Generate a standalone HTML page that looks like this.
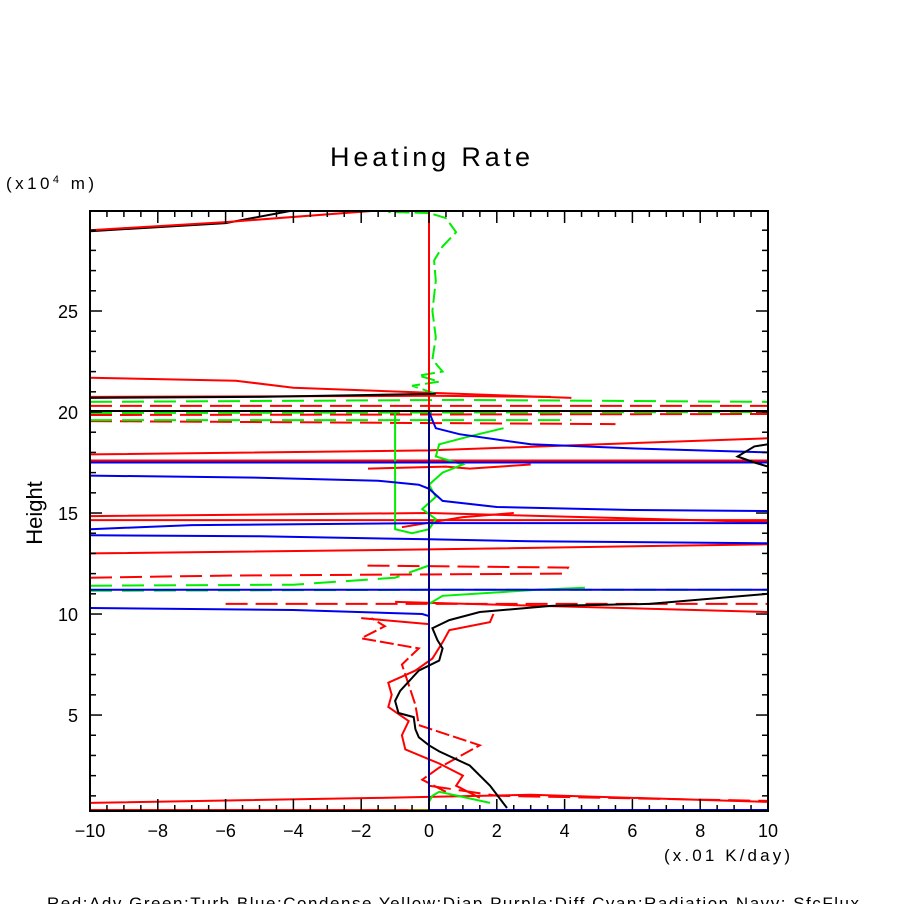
<!DOCTYPE html>
<html><head><meta charset="utf-8"><style>
html,body{margin:0;padding:0;background:#fff;}
svg{display:block;font-family:"Liberation Sans",sans-serif;}
</style></head><body>
<svg id="chart" width="904" height="904" viewBox="0 0 904 904" xmlns="http://www.w3.org/2000/svg">
<rect width="904" height="904" fill="#fff"/>
<text x="330" y="166" font-size="27" textLength="200" lengthAdjust="spacing" fill="#000">Heating Rate</text>
<text x="6" y="189" font-size="17" textLength="88" lengthAdjust="spacing" fill="#000">(x10<tspan font-size="11" dy="-6">4</tspan><tspan dy="6"> m)</tspan></text>
<text x="42" y="513" font-size="22" text-anchor="middle" fill="#000" transform="rotate(-90 42 513)">Height</text>
<text x="664" y="861" font-size="17" textLength="126" lengthAdjust="spacing" fill="#000">(x.01 K/day)</text>
<text x="47" y="909" font-size="17" textLength="812" lengthAdjust="spacing" fill="#000">Red:Adv  Green:Turb  Blue:Condense  Yellow:Diap  Purple:Diff  Cyan:Radiation  Navy: SfcFlux</text>
<g id="marks"></g>
<g id="axes"></g>
</svg>
<script>
const xTicks=[-10,-8,-6,-4,-2,0,2,4,6,8,10];
const yTicks=[5,10,15,20,25];
const X0=-10,X1=10,Y0=0.25,Y1=29.95;
const PL=90,PR=768,PT=211,PB=811;
function sx(v){return PL+(v-X0)/(X1-X0)*(PR-PL);}
function sy(v){return PB-(v-Y0)/(Y1-Y0)*(PB-PT);}
const NS="http://www.w3.org/2000/svg";
const marks=document.getElementById('marks');
const axes=document.getElementById('axes');

const blackTotal=[[2.3,0.4],[1.8,1.5],[1.2,2.5],[0.3,3.2],[0,3.5],[-0.3,3.9],[-0.4,4.3],[-0.45,4.9],[-0.9,5.1],[-1,5.7],[-0.85,6.2],[-0.3,7.2],[0.3,7.7],[0.4,8.3],[0.25,8.7],[0.1,9.3],[0.6,9.7],[1.5,10.1],[3.6,10.4],[6.5,10.5],[10,11.0]];
const blackTop=[[-10,28.95],[-6,29.35],[-4.1,29.95]];
const blackMid=[[-10,20.7],[-5,20.75],[0.2,20.9]];
const blackMid2=[[-10,20.05],[10,20.05]];
const blackRight=[[10,17.3],[9.6,17.5],[9.1,17.8],[9.6,18.3],[10,18.4]];
const redSolid=[
 [[-10,21.7],[-5.7,21.55],[-4,21.2],[4.2,20.7]],
 [[-10,20.75],[0,20.8],[3.6,20.75]],
 [[-10,17.9],[0,18.1],[10,18.7]],
 [[-10,17.6],[10,17.6]],
 [[-10,14.85],[0,15.0],[10,14.55]],
 [[-10,14.65],[10,14.65]],
 [[-10,13.0],[0,13.2],[10,13.45]],
 [[-10,0.65],[-1.5,0.9],[0,0.95],[3,1.05],[10,0.7]],
 [[-10,0.3],[10,0.3]],
 [[-1.0,10.6],[10,10.1]],
 [[-2,9.8],[0,9.5]]
];
const redDashed=[
 [[-10,20.3],[10,20.3]],
 [[-10,19.85],[10,19.9]],
 [[-10,19.55],[5.5,19.4]],
 [[-10,11.8],[-6,11.9],[4,12.0],[4.1,12.3],[-2,12.4]],
 [[-6,10.5],[10,10.5]],
 [[0,1.5],[2,1.0],[10,0.75]]
];
const redWiggle1=[[1.5,0.9],[0.8,1.5],[1.0,2.0],[0.3,2.6],[-0.7,3.3],[-0.8,4.0],[-0.6,4.7],[-1.2,5.4],[-1.1,6.0],[-1.2,6.6],[-0.4,7.2],[0.1,7.8],[0.4,8.6],[0.6,9.2],[1.8,9.6],[1.9,10.0]];
const redWiggle2=[[0.5,1.2],[-0.2,1.8],[0.3,2.4],[1.5,3.5],[-0.3,4.5],[-0.4,5.5],[-0.6,6.5],[-0.8,7.5],[-0.3,8.3],[-2.0,8.8],[-1.3,9.4],[-1.7,9.8]];
const redFrag1=[[-1.8,17.2],[0.5,17.3],[1.2,17.2],[3,17.4]];
const redFrag2=[[-0.8,14.3],[1,14.8],[2.5,15.0]];
const redZero=[[0,20.0],[0,29.9]];
const blueSolid=[
 [[-10,17.5],[10,17.5]],
 [[-10,16.85],[-5,16.75],[-1.5,16.6],[-0.3,16.4],[0,16.2],[0.4,15.6],[2,15.3],[6,15.15],[10,15.1]],
 [[0,20.0],[0.2,19.2],[0.9,18.9],[3,18.4],[6,18.2],[10,18.0]],
 [[-10,14.2],[-7,14.4],[0,14.5],[10,14.5]],
 [[-10,13.9],[-5,13.85],[0,13.7],[3,13.6],[10,13.5]],
 [[-10,11.2],[10,11.2]],
 [[-10,10.3],[-4,10.2],[-0.2,10.0],[0,9.9]],
 [[0,0.3],[10,0.3]]
];
const navyZero=[[0,0.3],[0,20.1]];
const greenSolid=[
 [[-1,20.0],[-1,14.2],[-0.5,14.0],[0,14.2],[0.2,14.7],[-0.2,15.2],[0.2,15.8],[0,16.4],[0.4,17.0],[1,17.4],[0.2,17.8],[0.3,18.4],[1.2,18.8],[2.2,19.2]],
 [[0,0.7],[0.1,1.0],[0.3,1.2],[1.8,0.65]],
 [[0,1],[0,10.5],[0.4,10.9],[3.2,11.2],[4.6,11.3]]
];
const greenTop=[[0.2,20.9],[-0.5,21.3],[0.3,21.5],[-0.3,21.8],[0.4,22.0],[0.1,22.6],[0.2,23.7],[0.1,25],[0.2,26.5],[0.15,27.5],[0.4,28.2],[0.8,28.9],[0.5,29.6],[0,29.85],[-1.2,29.9]];
const greenDashed=[
 [[-10,20.5],[1,20.6],[10,20.5]],
 [[-10,19.95],[10,20.0]],
 [[-10,19.6],[4.2,19.6]],
 [[-10,11.4],[-4,11.45],[-1,11.8],[0,12.4]],
 [[-10,11.15],[0,11.2],[10,11.2]],
 [[-2.5,0.25],[3,0.3]]
];

function line(pts,color,dash,w,name){
 const p=document.createElementNS(NS,'polyline');
 
 
 p.setAttribute('points',pts.map(q=>sx(q[0]).toFixed(1)+','+sy(q[1]).toFixed(1)).join(' '));
 p.setAttribute('fill','none');p.setAttribute('stroke',color);p.setAttribute('stroke-width',w||2);
 if(dash)p.setAttribute('stroke-dasharray',dash);
 marks.appendChild(p);
}
redSolid.forEach(s=>line(s,'#ff0000',null,2,'adv-line'));
redDashed.forEach(s=>line(s,'#ff0000','22,8',2,'adv-dashed-line'));
line(redWiggle1,'#ff0000',null,2,'adv-profile');
line(redWiggle2,'#ff0000','14,4',2,'adv-dashed-profile');
line(redFrag1,'#ff0000',null,2,'adv-fragment');
line(redFrag2,'#ff0000',null,2,'adv-fragment-2');
greenSolid.forEach(s=>line(s,'#00ee00',null,2,'turb-line'));
greenDashed.forEach(s=>line(s,'#00ee00','22,10',2,'turb-dashed-line'));
line(greenTop,'#00ee00','14,5',2,'turb-top-profile');
blueSolid.forEach(s=>line(s,'#0000ee',null,2,'condense-line'));
line(navyZero,'#000080',null,2,'sfcflux-line');
line(redZero,'#ff0000',null,2,'adv-zero-line');
line(blackTotal,'#000',null,2,'total-profile');
line(blackTop,'#000',null,2,'total-top');
line(blackMid,'#000',null,2,'total-mid');
line(blackMid2,'#000',null,2,'total-mid-2');
line(blackRight,'#000',null,2,'total-right');
line([[-10,29.0],[-6,29.4],[-1.7,29.95]],'#ff0000',null,2,'adv-top');

const fr=document.createElementNS(NS,'rect');


fr.setAttribute('x',PL);fr.setAttribute('y',PT);fr.setAttribute('width',PR-PL);fr.setAttribute('height',PB-PT);
fr.setAttribute('fill','none');fr.setAttribute('stroke','#000');fr.setAttribute('stroke-width',2);
axes.appendChild(fr);
function tk(x1,y1,x2,y2){const l=document.createElementNS(NS,'line');
 
 
 l.setAttribute('x1',x1);l.setAttribute('y1',y1);l.setAttribute('x2',x2);l.setAttribute('y2',y2);
 l.setAttribute('stroke','#000');l.setAttribute('stroke-width',1.5);axes.appendChild(l);}
for(let v=-10;v<=10.001;v+=0.5){const x=sx(v);const L=(Math.abs(v%2)<0.01)?12:6;tk(x,PB,x,PB-L);tk(x,PT,x,PT+L);}
for(let v=1;v<=29.5;v+=1){const y=sy(v);const L=(v%5===0)?12:6;tk(PL,y,PL+L,y);tk(PR,y,PR-L,y);}
xTicks.forEach(v=>{const t=document.createElementNS(NS,'text');
 
 
 t.setAttribute('x',sx(v));t.setAttribute('y',837);t.setAttribute('font-size',18);t.setAttribute('text-anchor','middle');
 t.textContent=(v<0?'\u2212'+(-v):v);axes.appendChild(t);});
yTicks.forEach(v=>{const t=document.createElementNS(NS,'text');
 
 
 t.setAttribute('x',78);t.setAttribute('y',sy(v)+7);t.setAttribute('font-size',18);t.setAttribute('text-anchor','end');
 t.textContent=v;axes.appendChild(t);});
</script>
</body></html>
